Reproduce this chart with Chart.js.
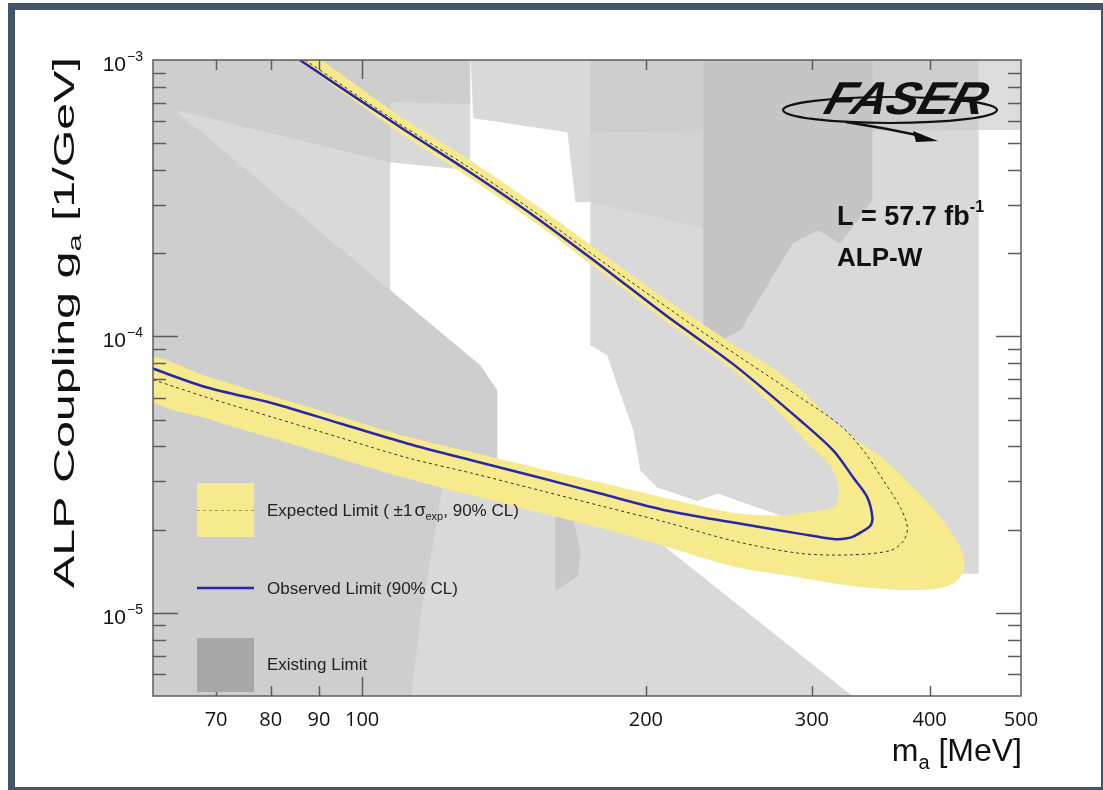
<!DOCTYPE html>
<html>
<head>
<meta charset="utf-8">
<script src="https://cdn.jsdelivr.net/npm/chart.js@4.4.1/dist/chart.umd.min.js"></script>
<style>
  html, body { margin: 0; padding: 0; background: #fff; }
  #wrap { position: relative; width: 1103px; height: 790px; overflow: hidden; }
  #limitChart { display: block; }
  #frame { position: absolute; left: 8px; top: 3px; width: 1100px; height: 791px; border: 7px solid #44546a; box-sizing: border-box; pointer-events: none; }
</style>
</head>
<body>
<div id="wrap">
  <canvas id="limitChart" width="1103" height="790"></canvas>
  <div id="frame"></div>
</div>
<script>
// axis ticks
const xTicks = [70, 80, 90, 100, 200, 300, 400, 500];
const xMarks = [70, 80, 90, 100, 200, 300, 400];
const yDecades = [1e-3, 1e-4, 1e-5];
const yDecadeLabels = ["\u22123", "\u22124", "\u22125"];

// observed limit (90% CL), m_a [MeV] / g_a [1/GeV]
const obsMass = [85.9, 109.7, 129.2, 151.9, 178.9, 210.8, 247.7, 291.7, 316.2, 332.0, 343.6, 347.8, 346.2, 340.3, 329.6, 316.2, 291.7, 247.7, 210.8, 178.9, 154.5, 131.2, 111.6, 94.8, 80.5, 68.5, 59.5];
const obsCoupling = [1.00e-3, 5.72e-4, 3.99e-4, 2.74e-4, 1.81e-4, 1.18e-4, 7.92e-5, 4.96e-5, 3.86e-5, 3.08e-5, 2.61e-5, 2.21e-5, 2.07e-5, 1.98e-5, 1.87e-5, 1.85e-5, 1.93e-5, 2.12e-5, 2.34e-5, 2.70e-5, 3.08e-5, 3.55e-5, 4.10e-5, 4.84e-5, 5.72e-5, 6.53e-5, 7.72e-5];

// expected limit
const expMass = [87.0, 109.7, 129.2, 151.9, 178.9, 228.5, 291.7, 321.7, 340.3, 357.3, 372.5, 378.9, 375.2, 363.5, 329.6, 291.7, 247.7, 210.8, 178.9, 154.5, 131.2, 111.6, 94.8, 80.5, 68.5, 59.5];
const expCoupling = [1.00e-3, 5.86e-4, 4.13e-4, 2.84e-4, 1.89e-4, 1.05e-4, 6.01e-5, 4.76e-5, 3.86e-5, 3.01e-5, 2.40e-5, 2.03e-5, 1.82e-5, 1.68e-5, 1.62e-5, 1.64e-5, 1.82e-5, 2.12e-5, 2.44e-5, 2.77e-5, 3.19e-5, 3.64e-5, 4.30e-5, 5.09e-5, 6.01e-5, 7.04e-5];

// +-1 sigma band: outer edge then inner edge
const bandMass = [90.5, 109.7, 129.2, 151.9, 178.9, 210.8, 247.7, 271.1, 291.7, 316.2, 337.8, 357.3, 381.7, 403.7, 424.0, 434.5, 434.5, 424.0, 403.7, 372.5, 337.8, 316.2, 291.7, 247.7, 210.8, 178.9, 154.5, 131.2, 111.6, 94.8, 80.5, 68.5, 59.5,
  59.5, 68.5, 80.5, 94.8, 111.6, 131.2, 154.5, 178.9, 210.8, 247.7, 277.8, 304.1, 317.8, 320.1, 314.1, 300, 291.7, 271.1, 247.7, 210.8, 178.9, 151.9, 129.2, 109.7, 85.5];
const bandCoupling = [1.00e-3, 6.27e-4, 4.41e-4, 3.03e-4, 2.02e-4, 1.35e-4, 9.35e-5, 7.79e-5, 6.43e-5, 4.96e-5, 4.13e-5, 3.61e-5, 2.91e-5, 2.38e-5, 1.90e-5, 1.61e-5, 1.42e-5, 1.28e-5, 1.22e-5, 1.21e-5, 1.24e-5, 1.28e-5, 1.34e-5, 1.47e-5, 1.73e-5, 2.03e-5, 2.30e-5, 2.65e-5, 3.06e-5, 3.61e-5, 4.27e-5, 5.04e-5, 5.96e-5,
  8.39e-5, 7.16e-5, 6.06e-5, 5.13e-5, 4.34e-5, 3.80e-5, 3.32e-5, 2.96e-5, 2.59e-5, 2.30e-5, 2.25e-5, 2.34e-5, 2.44e-5, 2.81e-5, 3.38e-5, 3.96e-5, 4.38e-5, 5.72e-5, 7.53e-5, 1.12e-4, 1.72e-4, 2.61e-4, 3.80e-4, 5.44e-4, 1.00e-3];

// existing limits (shaded areas)
const lightLeftMass = [55, 130.2, 130.2, 107.1, 107.1, 133.5, 139.1, 139.1, 162.3, 197.3, 203.2, 271.1, 344.2, 55];
const lightLeftCoupling = [1.1e-3, 1.1e-3, 3.99e-4, 4.27e-4, 1.47e-4, 7.85e-5, 6.37e-5, 3.49e-5, 2.72e-5, 2.25e-5, 1.885e-5, 8.61e-6, 4.5e-6, 4.5e-6];
const lightRightMass = [130.2, 450.8, 450.8, 431.4, 372.5, 321.7, 291.7, 277.8, 238.2, 226.8, 205.7, 197.3, 194.0, 186.6, 182.0, 174.6, 174.6, 168.4, 165.1, 131.2];
const lightRightCoupling = [1.1e-3, 1.1e-3, 1.385e-5, 1.385e-5, 1.42e-5, 1.54e-5, 1.98e-5, 2.25e-5, 2.70e-5, 2.54e-5, 2.84e-5, 3.27e-5, 4.56e-5, 6.64e-5, 8.54e-5, 9.28e-5, 3.06e-4, 3.06e-4, 5.48e-4, 6.16e-4];
const lightEdgeMass = [450.8, 550, 550, 450.8];
const lightEdgeCoupling = [1.1e-3, 1.1e-3, 5.58e-4, 5.58e-4];
const midTopLeftMass = [55, 130.2, 130.2, 107.1, 107.1, 63.3, 55];
const midTopLeftCoupling = [1.1e-3, 1.1e-3, 6.93e-4, 7.04e-4, 4.27e-4, 6.59e-4, 5.58e-4];
const midLowMass = [55, 63.3, 107.1, 133.5, 139.1, 139.1, 122.5, 121.0, 118.1, 115.2, 112.4, 55];
const midLowCoupling = [7.46e-4, 6.59e-4, 1.47e-4, 7.85e-5, 6.37e-5, 3.27e-5, 3.27e-5, 2.54e-5, 1.54e-5, 9.35e-6, 4.5e-6, 4.5e-6];
const midTopRightMass = [174.6, 450.8, 450.8, 174.6];
const midTopRightCoupling = [1.1e-3, 1.1e-3, 5.58e-4, 5.48e-4];
const midStripMass = [174.6, 230.1, 230.1, 174.6];
const midStripCoupling = [5.48e-4, 5.48e-4, 2.46e-4, 3.06e-4];
const darkTopMass = [230.1, 347.8, 347.8, 321.7, 304.1, 286.1, 251.9, 239.9, 230.1];
const darkTopCoupling = [1.1e-3, 1.1e-3, 3.11e-4, 2.17e-4, 2.42e-4, 2.17e-4, 1.05e-4, 9.67e-5, 1.05e-4];
const darkSmallMass = [160.3, 166.3, 170.4, 169.6, 160.3];
const darkSmallCoupling = [2.54e-5, 2.44e-5, 1.68e-5, 1.36e-5, 1.20e-5];

const FONT = '"Liberation Sans", Arial, Helvetica, sans-serif';
const bandColor = "#f6ea8c";
const obsColor = "#2727a8";

function toPoints(ms, gs) {
    return ms.map((m, i) => ({ x: m, y: gs[i] }));
}

function area(ms, gs, color, order) {
    return {
        data: toPoints(ms, gs),
        backgroundColor: color,
        borderColor: "transparent",
        borderWidth: 0,
        fill: "shape",
        tension: 0,
        pointRadius: 0,
        order: order
    };
}

// draws a row of text pieces (for sub/superscripts)
function drawParts(ctx, parts, x, y) {
    parts.forEach(p => {
        ctx.font = p.font;
        ctx.fillText(p.t, x, y + (p.dy || 0));
        x += ctx.measureText(p.t).width + (p.gap || 0);
    });
    return x;
}

function partsWidth(ctx, parts) {
    let w = 0;
    parts.forEach(p => { ctx.font = p.font; w += ctx.measureText(p.t).width + (p.gap || 0); });
    return w;
}

const plotDecor = {
    id: "plotDecor",
    afterDatasetsDraw(chart) {
        const { ctx, chartArea: a, scales: { x, y } } = chart;
        ctx.save();

        // frame
        ctx.strokeStyle = "#5c5c5c";
        ctx.lineWidth = 1.5;
        ctx.strokeRect(a.left, a.top, a.right - a.left, a.bottom - a.top);

        // inward ticks
        ctx.beginPath();
        xMarks.forEach(v => {
            const px = Math.round(x.getPixelForValue(v)) + 0.5;
            const len = v === 100 ? 19 : 10;
            ctx.moveTo(px, a.bottom); ctx.lineTo(px, a.bottom - len);
            ctx.moveTo(px, a.top); ctx.lineTo(px, a.top + len);
        });
        for (let e = -6; e <= -3; e++) {
            for (let m = 1; m <= 9; m++) {
                const v = m * Math.pow(10, e);
                if (v <= y.min * 1.001 || v >= y.max * 0.999) continue;
                const py = Math.round(y.getPixelForValue(v)) + 0.5;
                const len = m === 1 ? 25 : 13;
                ctx.moveTo(a.left, py); ctx.lineTo(a.left + len, py);
                ctx.moveTo(a.right, py); ctx.lineTo(a.right - len, py);
            }
        }
        ctx.stroke();

        // legend
        const lx = a.left + 44, lw = 57;
        ctx.fillStyle = bandColor;
        ctx.fillRect(lx, 483, lw, 54);
        ctx.setLineDash([3, 3]);
        ctx.strokeStyle = "#a99b5c";
        ctx.lineWidth = 1.2;
        ctx.beginPath(); ctx.moveTo(lx, 510.5); ctx.lineTo(lx + lw, 510.5); ctx.stroke();
        ctx.setLineDash([]);
        ctx.strokeStyle = obsColor;
        ctx.lineWidth = 2.5;
        ctx.beginPath(); ctx.moveTo(lx, 588); ctx.lineTo(lx + lw, 588); ctx.stroke();
        ctx.fillStyle = "#a7a7a7";
        ctx.fillRect(lx, 638, lw, 54);

        ctx.fillStyle = "#222";
        ctx.textBaseline = "alphabetic";
        ctx.textAlign = "left";
        const f17 = "17px " + FONT, f11 = "11px " + FONT;
        drawParts(ctx, [
            { t: "Expected Limit ( \u00b11", font: f17, gap: 2 },
            { t: "\u03c3", font: "18px " + FONT },
            { t: "exp", font: f11, dy: 4 },
            { t: ", 90% CL)", font: f17 }
        ], lx + 70, 516);
        drawParts(ctx, [{ t: "Observed Limit (90% CL)", font: f17 }], lx + 70, 594);
        drawParts(ctx, [{ t: "Existing Limit", font: f17 }], lx + 70, 670);
        ctx.restore();
    },
    afterDraw(chart) {
        const { ctx, chartArea: a, scales: { y } } = chart;
        ctx.save();
        ctx.fillStyle = "#111";
        ctx.textAlign = "left";
        ctx.textBaseline = "alphabetic";

        // y decade labels
        yDecades.forEach((v, i) => {
            const py = y.getPixelForValue(v);
            const parts = [
                { t: "10", font: "21px " + FONT, gap: 1 },
                { t: yDecadeLabels[i], font: "14px " + FONT, dy: -10 }
            ];
            const w = partsWidth(ctx, parts);
            drawParts(ctx, parts, a.left - 10 - w, py + 11);
        });

        // x title
        const xParts = [
            { t: "m", font: "32px " + FONT },
            { t: "a", font: "20px " + FONT, dy: 8 },
            { t: " [MeV]", font: "32px " + FONT }
        ];
        drawParts(ctx, xParts, a.right + 1 - partsWidth(ctx, xParts), 761);

        // y title, stretched along its length like the original
        const yParts = [
            { t: "ALP Coupling g", font: "30px " + FONT },
            { t: "a", font: "19px " + FONT, dy: 7 },
            { t: " [1/GeV]", font: "30px " + FONT }
        ];
        const yw = partsWidth(ctx, yParts);
        ctx.save();
        ctx.translate(74, 588);
        ctx.rotate(-Math.PI / 2);
        ctx.scale(531 / yw, 1);
        drawParts(ctx, yParts, 0, 0);
        ctx.restore();

        // luminosity text
        ctx.fillStyle = "#111";
        const bx = drawParts(ctx, [{ t: "L = 57.7 fb", font: "bold 27px " + FONT }], 837, 225);
        drawParts(ctx, [{ t: "-1", font: "bold 16px " + FONT }], bx, 212);
        drawParts(ctx, [{ t: "ALP-W", font: "bold 26px " + FONT }], 837, 266);

        // FASER logo
        ctx.strokeStyle = "#111";
        ctx.lineWidth = 2.2;
        ctx.beginPath();
        ctx.ellipse(890, 110, 107, 13, 0, 0, Math.PI * 2);
        ctx.stroke();
        ctx.beginPath();
        ctx.moveTo(846, 122);
        ctx.quadraticCurveTo(885, 128, 922, 136);
        ctx.lineWidth = 2.6;
        ctx.stroke();
        ctx.fillStyle = "#111";
        ctx.beginPath();
        ctx.moveTo(938, 141);
        ctx.lineTo(913, 131);
        ctx.lineTo(916, 142);
        ctx.closePath();
        ctx.fill();
        ctx.save();
        ctx.font = "italic bold 46px " + FONT;
        const fw = ctx.measureText("FASER").width;
        ctx.transform(1, 0, -0.32, 1, 0.32 * 114, 0);
        ctx.translate(822, 114);
        ctx.scale(160 / fw, 1);
        ctx.fillText("FASER", 0, 0);
        ctx.restore();

        ctx.restore();
    }
};

const datasets = [
    {
        data: toPoints(obsMass, obsCoupling),
        borderColor: obsColor, borderWidth: 2.5, fill: false, tension: 0.3, pointRadius: 0, order: 0
    },
    {
        data: toPoints(expMass, expCoupling),
        borderColor: "#333", borderWidth: 1, borderDash: [3, 3], fill: false, tension: 0.3, pointRadius: 0, order: 1
    },
    Object.assign(area(bandMass, bandCoupling, bandColor, 2), { tension: 0.3 }),
    area(darkSmallMass, darkSmallCoupling, "#c8c8c8", 3),
    area(darkTopMass, darkTopCoupling, "#c5c5c5", 4),
    area(midStripMass, midStripCoupling, "#d3d3d3", 5),
    area(midTopRightMass, midTopRightCoupling, "#cecece", 6),
    area(midLowMass, midLowCoupling, "#cecece", 7),
    area(midTopLeftMass, midTopLeftCoupling, "#cecece", 8),
    area(lightEdgeMass, lightEdgeCoupling, "#dcdcdc", 9),
    area(lightRightMass, lightRightCoupling, "#d9d9d9", 10),
    area(lightLeftMass, lightLeftCoupling, "#d9d9d9", 11)
];

document.addEventListener("DOMContentLoaded", function () {
    let ctx = document.getElementById("limitChart").getContext("2d");

    new Chart(ctx, {
        type: "line",
        data: { datasets: datasets },
        options: {
            responsive: false,
            animation: false,
            layout: { padding: { left: 0, right: 82, top: 60, bottom: 0 } },
            plugins: { legend: { display: false }, tooltip: { enabled: false } },
            scales: {
                x: {
                    type: "logarithmic", min: 60, max: 500,
                    grid: { display: false, drawTicks: false },
                    border: { display: false },
                    afterBuildTicks: s => { s.ticks = xTicks.map(v => ({ value: v })); },
                    afterFit: s => { s.height = 94; },
                    ticks: {
                        autoSkip: false, maxRotation: 0, padding: 12, color: "#111",
                        font: { family: "'Open Sans'", size: 20 },
                        callback: v => String(v)
                    }
                },
                y: {
                    type: "logarithmic", min: 5e-6, max: 1e-3,
                    grid: { display: false, drawTicks: false },
                    border: { display: false },
                    ticks: { display: false },
                    afterFit: s => { s.width = 153; }
                }
            }
        },
        plugins: [plotDecor]
    });
});
</script>
</body>
</html>
